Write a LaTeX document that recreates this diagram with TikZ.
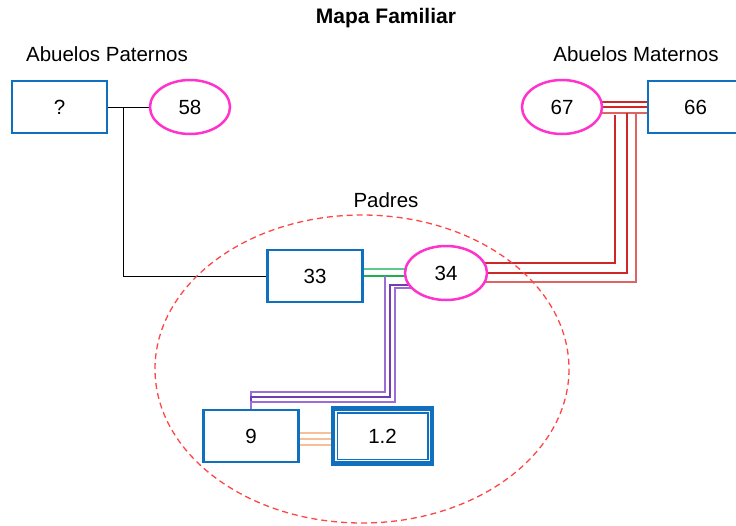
\documentclass[tikz,border=0pt]{standalone}
\usepackage{fontspec}
\setmainfont{Liberation Sans}
\usetikzlibrary{shapes.geometric}
\definecolor{pblue}{RGB}{16,112,192}
\definecolor{pmag}{RGB}{255,51,204}
\definecolor{dashred}{RGB}{255,70,70}
\definecolor{redA}{RGB}{204,40,40}
\definecolor{redB}{RGB}{222,100,100}
\definecolor{greenA}{RGB}{90,205,140}
\definecolor{greenB}{RGB}{30,175,80}
\definecolor{purA}{RGB}{155,110,215}
\definecolor{purB}{RGB}{115,60,180}
\definecolor{orangeA}{RGB}{248,190,150}
\begin{document}
\begin{tikzpicture}[x=1pt,y=-1pt,
  every node/.style={font=\fontsize{20.5}{24}\selectfont},
  male/.style={rectangle, draw=pblue, line width=2.5pt, fill=white,
    minimum width=95pt, minimum height=52pt, inner sep=0pt},
  female/.style={ellipse, draw=pmag, line width=2.5pt, fill=white,
    minimum width=80pt, minimum height=54pt, inner sep=0pt},
  label/.style={font=\fontsize{20.5}{24}\selectfont},
  link/.style={line width=1.4pt},
  groupline/.style={draw=dashred, line width=1.3pt, dash pattern=on 6pt off 4pt}]
\useasboundingbox (0,0) rectangle (736,525);
\clip (0,0) rectangle (736,525);

% titles and group labels
\node[font=\bfseries\fontsize{21}{24}\selectfont] (title) at (386,18) {Mapa Familiar};
\node[label] (lpat) at (107,54) {Abuelos Paternos};
\node[label] (lmat) at (636,54) {Abuelos Maternos};
\node[label] (lpad) at (386,200) {Padres};

% centres of the family members
\coordinate (cq)  at (59.5,107);
\coordinate (c58) at (190,107);
\coordinate (c67) at (562,107);
\coordinate (c66) at (695.5,107);
\coordinate (c33) at (315,276);
\coordinate (c34) at (446,273);
\coordinate (c9)  at (251,436);
\coordinate (c12) at (382.5,436);
\coordinate (top9) at (251,410);

% bend points of the connectors
\coordinate (jp) at (123,107);
\coordinate (r1) at (615,115);
\coordinate (r2) at (627,113);
\coordinate (r3) at (636,113);
\coordinate (pa) at (385,276);
\coordinate (ya) at (0,392);
\coordinate (yb) at (0,397);
\coordinate (yc) at (0,402);
\coordinate (xb) at (390,0);
\coordinate (xc) at (395,0);

% connectors, drawn first so the white-filled shapes cover their ends
\begin{scope}[link]
  % paternal grandparents
  \draw[black, line width=1pt] (cq) -- (c58);
  \draw[black, line width=1pt] (jp) |- (c33);
  % maternal grandparents
  \draw[redA] ([shift={(0,-5)}]c67) -- ([shift={(0,-5)}]c66);
  \draw[redA] (c67) -- (c66);
  \draw[redB] ([shift={(0,6)}]c67) -- ([shift={(0,6)}]c66);
  \draw[redA] ([shift={(0,-10)}]c34) -| (r1);
  \draw[redA] (c34) -| (r2);
  \draw[redB] ([shift={(0,9)}]c34) -| (r3);
  % parents
  \draw[greenA] ([shift={(0,-7)}]c33) -- ([shift={(0,-7)}]c34 |- c33);
  \draw[greenB] (c33) -- (c34 |- c33);
  % children
  \draw[purA] (pa) |- (top9 |- ya) -- (top9);
  \draw[purB] ([shift={(0,12)}]c34) -| (xb |- yb) -- (top9 |- yb) -- (top9);
  \draw[purA] ([shift={(0,15)}]c34) -| (xc |- yc) -- (top9 |- yc) -- (top9);
  % siblings
  \draw[orangeA] ([shift={(0,-3)}]c9) -- ([shift={(0,-3)}]c12);
  \draw[orangeA] ([shift={(0,3)}]c9) -- ([shift={(0,3)}]c12);
  \draw[orangeA] ([shift={(0,9)}]c9) -- ([shift={(0,9)}]c12);
\end{scope}

% family members
\node[male]   (nq)  at (cq)  {?};
\node[female] (n58) at (c58) {58};
\node[female] (n67) at (c67) {67};
\node[male]   (n66) at (c66) {66};
\node[male]   (n33) at (c33) {33};
\node[female, minimum width=82pt] (n34) at (c34) {34};
\node[male]   (n9)  at (c9)  {9};
\node[male, minimum width=99pt, minimum height=55pt, line width=4.5pt] (n12) at (c12) {1.2};
\draw[pblue, line width=1.5pt] ([shift={(6.5,6.5)}]n12.north west) rectangle ([shift={(-6.5,-6.5)}]n12.south east);

% the parents' group
\draw[groupline] (362,369) ellipse [x radius=207, y radius=154];
\end{tikzpicture}
\end{document}
